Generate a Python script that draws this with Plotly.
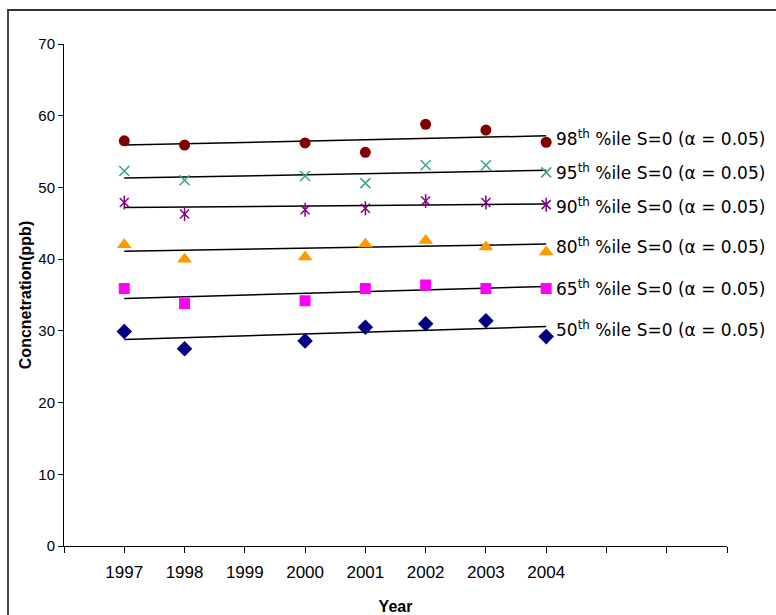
import plotly.graph_objects as go

# Sampling years and percentile concentrations (ppb)
years = [1997, 1998, 2000, 2001, 2002, 2003, 2004]
p98 = [56.5, 55.9, 56.2, 54.9, 58.8, 58.0, 56.3]
p95 = [52.3, 51.0, 51.6, 50.6, 53.1, 53.1, 52.1]
p90 = [47.9, 46.3, 46.9, 47.1, 48.1, 47.9, 47.6]
p80 = [42.0, 40.0, 40.3, 42.1, 42.6, 41.7, 41.0]
p65 = [35.9, 33.8, 34.2, 35.9, 36.4, 35.9, 35.9]
p50 = [29.9, 27.5, 28.6, 30.5, 31.0, 31.4, 29.2]

# Trend line end points (1997 -> 2004) for each percentile
trend_years = [1997, 2004]
trend_98 = [55.9, 57.2]
trend_95 = [51.3, 52.4]
trend_90 = [47.2, 47.7]
trend_80 = [41.1, 42.1]
trend_65 = [34.5, 36.2]
trend_50 = [28.8, 30.6]

# Axis tick labels
tick_years = list(range(1996, 2008))
tick_text = ["" if (y < 1997 or y > 2004) else str(y) for y in tick_years]

percentile_labels = ["98", "95", "90", "80", "65", "50"]
series = [p98, p95, p90, p80, p65, p50]
trends = [trend_98, trend_95, trend_90, trend_80, trend_65, trend_50]

marker_styles = [
    dict(symbol="circle", color="#800000", size=11),
    dict(symbol="x-thin-open", color="#33AA77", size=10, line=dict(width=1.5, color="#33AA77")),
    dict(symbol="x-thin-open", color="#800080", size=9, line=dict(width=1.5, color="#800080")),
    dict(symbol="triangle-up", color="#FF9900", size=13),
    dict(symbol="square", color="#FF00FF", size=11),
    dict(symbol="diamond", color="#000080", size=12),
]

fig = go.Figure()

for vals, tr, ms in zip(series, trends, marker_styles):
    fig.add_trace(go.Scatter(
        x=trend_years, y=tr, mode="lines",
        line=dict(color="black", width=1.5),
        hoverinfo="skip", showlegend=False,
    ))
    fig.add_trace(go.Scatter(
        x=years, y=vals, mode="markers",
        marker=ms, showlegend=False, cliponaxis=False,
    ))

# vertical stroke completing the star marker of the 90th percentile
fig.add_trace(go.Scatter(
    x=years, y=p90, mode="markers",
    marker=dict(symbol="line-ns-open", size=10, color="#800080",
                line=dict(width=1.5, color="#800080")),
    showlegend=False, cliponaxis=False,
))

label_font = dict(family="DejaVu Sans, Liberation Sans, Arial", size=17, color="black")
for lab, tr in zip(percentile_labels, trends):
    fig.add_annotation(
        x=trend_years[-1], y=tr[-1], xref="x", yref="y",
        text=f"{lab}<sup>th</sup> %ile S=0 (α = 0.05)",
        showarrow=False, xanchor="left", yanchor="middle",
        xshift=8, yshift=-2, font=label_font,
    )

L, R, T, B = 64, 49, 44, 69
W, H = 776, 615
pw, ph = W - L - R, H - T - B

# chart frame (runs off the right and bottom edges)
fig.add_shape(
    type="rect", xref="paper", yref="paper",
    x0=(8 - L) / pw, x1=(790 - L) / pw,
    y0=(H - B - 630) / ph, y1=(H - B - 10) / ph,
    line=dict(color="#333333", width=1.8), fillcolor="rgba(0,0,0,0)", layer="below",
)

sans = "Liberation Sans, Arial"

fig.update_layout(
    width=W, height=H,
    margin=dict(l=L, r=R, t=T, b=B, pad=0),
    paper_bgcolor="white", plot_bgcolor="white",
    xaxis=dict(
        range=[1996, 2007], tickmode="array", tickvals=tick_years, ticktext=tick_text,
        automargin=False,
        showgrid=False, zeroline=False, showline=True, linecolor="black", linewidth=1,
        ticks="outside", ticklen=6, tickcolor="black", tickwidth=1,
        ticklabelstandoff=5,
        tickfont=dict(family=sans, size=17, color="black"),
        title=dict(text="<b>Year</b>", font=dict(family=sans, size=16, color="black"), standoff=20),
    ),
    yaxis=dict(
        range=[0, 70], tickmode="linear", tick0=0, dtick=10,
        automargin=False,
        showgrid=False, zeroline=False, showline=True, linecolor="black", linewidth=1,
        ticks="outside", ticklen=5, tickcolor="black", tickwidth=1,
        tickfont=dict(family=sans, size=15, color="black"),
        title=dict(text="<b>Concnetration(ppb)</b>", font=dict(family=sans, size=16, color="black"), standoff=2),
    ),
)

fig.write_html("out.html")
